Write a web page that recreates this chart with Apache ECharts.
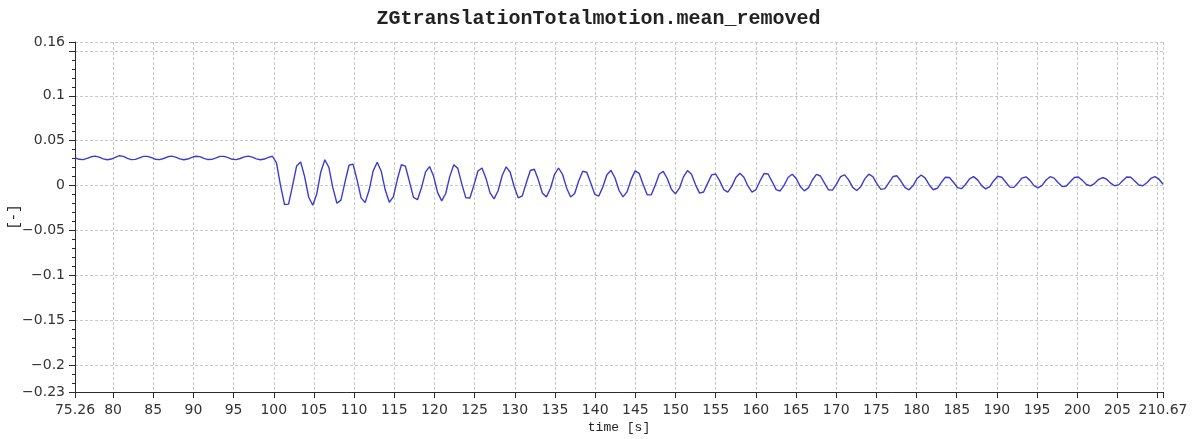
<!DOCTYPE html>
<html>
<head>
<meta charset="utf-8">
<title>ZGtranslationTotalmotion.mean_removed</title>
<script src="https://cdn.jsdelivr.net/npm/echarts@6/dist/echarts.min.js"></script>
<style>
  html, body { margin: 0; padding: 0; background: #ffffff; }
  #chart { width: 1197px; height: 439px; }
</style>
</head>
<body>
<div id="chart"></div>
<script>
// Uniformly sampled time base of the record [s]
const startTime = 75.26;
const endTime = 210.67;
const sampleStep = 0.5015;

// Z translation, mean removed [-]: steady phase before t = 100 s
const zgBefore100 = [
  0.0310, 0.0293, 0.0289, 0.0303, 0.0321, 0.0328, 0.0317, 0.0298, 0.0288, 0.0296,
  0.0315, 0.0333, 0.0326, 0.0304, 0.0289, 0.0292, 0.0309, 0.0325, 0.0326, 0.0311,
  0.0293, 0.0289, 0.0302, 0.0321, 0.0328, 0.0317, 0.0298, 0.0288, 0.0296, 0.0315,
  0.0327, 0.0323, 0.0304, 0.0290, 0.0292, 0.0308, 0.0325, 0.0326, 0.0311, 0.0293,
  0.0289, 0.0302, 0.0320, 0.0328, 0.0317, 0.0298, 0.0288, 0.0296, 0.0314, 0.0327
];

// Decaying oscillation after t = 100 s
const zgAfter100 = [
  0.0253, 0.0003, -0.0211, -0.0206, -0.0001, 0.0219, 0.0264, 0.0097, -0.0130, -0.0219,
  -0.0093, 0.0152, 0.0288, 0.0203, -0.0026, -0.0197, -0.0162, 0.0039, 0.0227, 0.0239,
  0.0064, -0.0137, -0.0190, -0.0050, 0.0164, 0.0260, 0.0159, -0.0050, -0.0186, -0.0126,
  0.0070, 0.0232, 0.0216, 0.0044, -0.0131, -0.0157, -0.0022, 0.0153, 0.0212, 0.0103,
  -0.0078, -0.0170, -0.0088, 0.0100, 0.0233, 0.0192, 0.0016, -0.0137, -0.0138, 0.0005,
  0.0162, 0.0196, 0.0080, -0.0081, -0.0148, -0.0057, 0.0110, 0.0209, 0.0149, -0.0013,
  -0.0137, -0.0115, 0.0031, 0.0168, 0.0182, 0.0061, -0.0086, -0.0126, -0.0029, 0.0124,
  0.0196, 0.0124, -0.0026, -0.0128, -0.0088, 0.0052, 0.0160, 0.0149, 0.0029, -0.0098,
  -0.0117, -0.0014, 0.0120, 0.0169, 0.0087, -0.0052, -0.0126, -0.0070, 0.0066, 0.0164,
  0.0137, 0.0011, -0.0103, -0.0104, 0.0005, 0.0129, 0.0158, 0.0076, -0.0041, -0.0092,
  -0.0029, 0.0097, 0.0168, 0.0127, 0.0008, -0.0084, -0.0071, 0.0025, 0.0119, 0.0129,
  0.0053, -0.0044, -0.0072, -0.0009, 0.0091, 0.0137, 0.0093, -0.0004, -0.0072, -0.0046,
  0.0052, 0.0134, 0.0129, 0.0045, -0.0045, -0.0060, 0.0006, 0.0093, 0.0127, 0.0078,
  -0.0010, -0.0059, -0.0025, 0.0062, 0.0124, 0.0107, 0.0027, -0.0047, -0.0050, 0.0019,
  0.0100, 0.0119, 0.0064, -0.0020, -0.0055, -0.0013, 0.0075, 0.0127, 0.0100, 0.0021,
  -0.0042, -0.0034, 0.0034, 0.0101, 0.0109, 0.0048, -0.0024, -0.0047, 0.0000, 0.0080,
  0.0118, 0.0083, 0.0007, -0.0046, -0.0030, 0.0036, 0.0093, 0.0090, 0.0037, -0.0023,
  -0.0034, 0.0012, 0.0075, 0.0100, 0.0064, 0.0000, -0.0037, -0.0012, 0.0055, 0.0104,
  0.0093, 0.0037, -0.0017, -0.0020, 0.0028, 0.0084, 0.0098, 0.0058, 0.0000, -0.0026,
  0.0003, 0.0062, 0.0099, 0.0083, 0.0031, -0.0011, -0.0005, 0.0043, 0.0090, 0.0096,
  0.0058, 0.0012, -0.0003, 0.0023, 0.0067, 0.0090, 0.0071, 0.0028, -0.0002, 0.0008,
  0.0054, 0.0095, 0.0093, 0.0052, 0.0007, -0.0002, 0.0032, 0.0080, 0.0100, 0.0073, 0.0015
];

// Axis ranges and labelled ticks
const xRange = [startTime, endTime];
const yRange = [-0.23, 0.16];
const xTickLabels = [75.26, 80, 85, 90, 95, 100, 105, 110, 115, 120, 125, 130, 135, 140,
  145, 150, 155, 160, 165, 170, 175, 180, 185, 190, 195, 200, 205, 210.67];
const yTickLabels = [-0.23, -0.2, -0.15, -0.1, -0.05, 0, 0.05, 0.1, 0.16];

const samples = zgBefore100.concat(zgAfter100);
const seriesData = samples.map((v, i) => [+(startTime + i * sampleStep).toFixed(3), v]);

const inkColor = '#2b2b2b';
const gridColor = '#c9c9c9';
const labelFont = '"DejaVu Sans", Verdana, sans-serif';
const monoFont = '"Liberation Mono", "DejaVu Sans Mono", monospace';

const chart = echarts.init(document.getElementById('chart'), null, { renderer: 'canvas' });

chart.setOption({
  animation: false,
  backgroundColor: '#ffffff',
  title: {
    text: 'ZGtranslationTotalmotion.mean_removed',
    left: 'center',
    top: 4,
    textStyle: {
      fontFamily: monoFont,
      fontWeight: 'bold',
      fontSize: 20,
      color: '#222222'
    }
  },
  grid: { left: 75, right: 34, top: 42, bottom: 47, containLabel: false, outerBoundsMode: 'none' },
  xAxis: {
    type: 'value',
    min: xRange[0],
    max: xRange[1],
    splitNumber: 27,
    name: 'time [s]',
    nameLocation: 'middle',
    nameGap: 29,
    nameMoveOverlap: false,
    nameTextStyle: { fontFamily: monoFont, fontSize: 13, color: '#222222' },
    axisLine: { show: true, onZero: false, lineStyle: { color: inkColor, width: 1 } },
    axisTick: { show: true, inside: false, length: 6, lineStyle: { color: inkColor, width: 1 } },
    axisLabel: {
      customValues: xTickLabels,
      fontFamily: labelFont,
      fontSize: 14,
      color: '#333333',
      margin: 11,
      showMinLabel: true,
      showMaxLabel: true
    },
    splitLine: { show: true, lineStyle: { color: gridColor, type: [3, 2], width: 1 } }
  },
  yAxis: {
    type: 'value',
    min: yRange[0],
    max: yRange[1],
    splitNumber: 8,
    name: '[-]',
    nameLocation: 'middle',
    nameGap: 54,
    nameRotate: 90,
    nameMoveOverlap: false,
    nameTextStyle: { fontFamily: monoFont, fontSize: 14, color: '#222222' },
    axisLine: { show: true, onZero: false, lineStyle: { color: inkColor, width: 1 } },
    axisTick: { show: true, inside: false, length: 6, lineStyle: { color: inkColor, width: 1 } },
    minorTick: { show: true, splitNumber: 5, length: 3, lineStyle: { color: inkColor, width: 1 } },
    axisLabel: {
      customValues: yTickLabels,
      fontFamily: labelFont,
      fontSize: 14,
      color: '#333333',
      margin: 10,
      formatter: (v) => String(+v.toFixed(4)).replace('-', '\u2212')
    },
    splitLine: { show: true, lineStyle: { color: gridColor, type: [3, 2], width: 1 } }
  },
  series: [{
    type: 'line',
    name: 'ZGtranslationTotalmotion.mean_removed',
    data: seriesData,
    showSymbol: false,
    smooth: false,
    sampling: null,
    lineStyle: { color: '#3b3bd4', width: 1.4 },
    emphasis: { disabled: true }
  }]
});
</script>
</body>
</html>
